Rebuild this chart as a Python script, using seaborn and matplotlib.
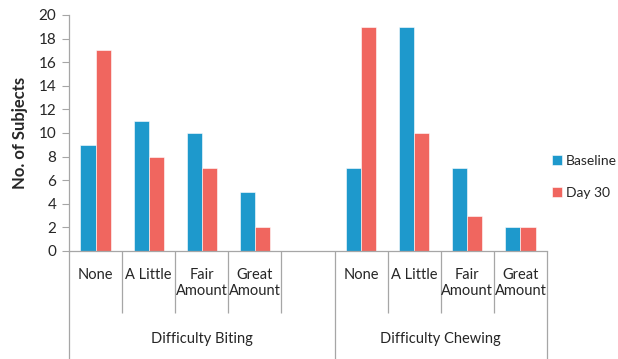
import matplotlib
matplotlib.use("Agg")
import matplotlib.pyplot as plt
import matplotlib.transforms as mtransforms
import seaborn as sns
import pandas as pd

# Survey responses (number of subjects)
groups = ["Difficulty Biting", "Difficulty Chewing"]
levels = ["None", "A Little", "Fair\nAmount", "Great\nAmount"]
series = ["Baseline", "Day 30"]
biting_baseline = [9, 11, 10, 5]
biting_day30 = [17, 8, 7, 2]
chewing_baseline = [7, 19, 7, 2]
chewing_day30 = [19, 10, 3, 2]
y_ticks = list(range(0, 21, 2))

palette = {"Baseline": "#1E99CC", "Day 30": "#F0665F"}
axis_grey = "#A6A6A6"
text_col = "#262626"

rows = []
for g, base, d30 in [(groups[0], biting_baseline, biting_day30),
                     (groups[1], chewing_baseline, chewing_day30)]:
    for lvl, b, d in zip(levels, base, d30):
        key = f"{g}|{lvl}"
        rows.append({"slot": key, "series": "Baseline", "n": b})
        rows.append({"slot": key, "series": "Day 30", "n": d})
df = pd.DataFrame(rows)

# Slot order: the biting block carries one empty slot at its end
slot_order = [f"{groups[0]}|{l}" for l in levels] + ["__spacer__"] + \
             [f"{groups[1]}|{l}" for l in levels]
slot_labels = list(levels) + [""] + list(levels)

sns.set_theme(style="white")
plt.rcParams["font.family"] = ["Lato", "DejaVu Sans"]

fig = plt.figure(figsize=(6.18, 3.59), dpi=100)
ax = fig.add_axes([69 / 618, 1 - 251 / 359, (547 - 69) / 618, (251 - 15) / 359])

sns.barplot(data=df, x="slot", y="n", hue="series", order=slot_order,
            hue_order=series, palette=palette, width=0.57, gap=0,
            edgecolor="white", linewidth=0.4, saturation=1, ax=ax)

ax.set_xlim(-0.5, len(slot_order) - 0.5)
ax.set_ylim(0, 20)
ax.set_yticks(y_ticks)
ax.tick_params(axis="y", which="major", length=5, width=0.8, color=axis_grey,
               labelsize=11, labelcolor=text_col, pad=4, left=True)
ax.set_xticks([])
ax.set_xlabel("")
ax.set_ylabel("No. of Subjects", fontsize=12, fontweight="bold", color=text_col,
              labelpad=8)
for side in ["top", "right"]:
    ax.spines[side].set_visible(False)
for side in ["left", "bottom"]:
    ax.spines[side].set_color(axis_grey)
    ax.spines[side].set_linewidth(0.9)
ax.spines["left"].set_bounds(0, 20)

trans = mtransforms.blended_transform_factory(ax.transData, ax.transAxes)
short_y = -(313 - 251) / 236
full_y = -(359 - 251) / 236

# Separators between category slots
for i in range(len(slot_order) + 1):
    x = i - 0.5
    full = i in (0, 5, 9)
    ax.plot([x, x], [0, full_y if full else short_y], transform=trans,
            color=axis_grey, lw=0.9, clip_on=False, solid_capstyle="butt")

# Level labels
for i, lab in enumerate(slot_labels):
    if lab:
        ax.text(i, -(268 - 251) / 236, lab, transform=trans, ha="center",
                va="top", fontsize=10.5, color=text_col, linespacing=1.2)

# Group labels
ax.text(2.0, -(339 - 251) / 236, groups[0], transform=trans, ha="center",
        va="center", fontsize=10.5, color=text_col)
ax.text(6.5, -(339 - 251) / 236, groups[1], transform=trans, ha="center",
        va="center", fontsize=10.5, color=text_col)

handles, labels = ax.get_legend_handles_labels()
ax.legend(handles, labels, loc="center left",
          bbox_to_anchor=(552 / 618, 1 - 177 / 359),
          bbox_transform=fig.transFigure, frameon=False, fontsize=10,
          borderpad=0, borderaxespad=0,
          handlelength=0.7, handleheight=0.7, handletextpad=0.3,
          labelspacing=1.45, labelcolor=text_col)

fig.savefig("out.png", dpi=100)
